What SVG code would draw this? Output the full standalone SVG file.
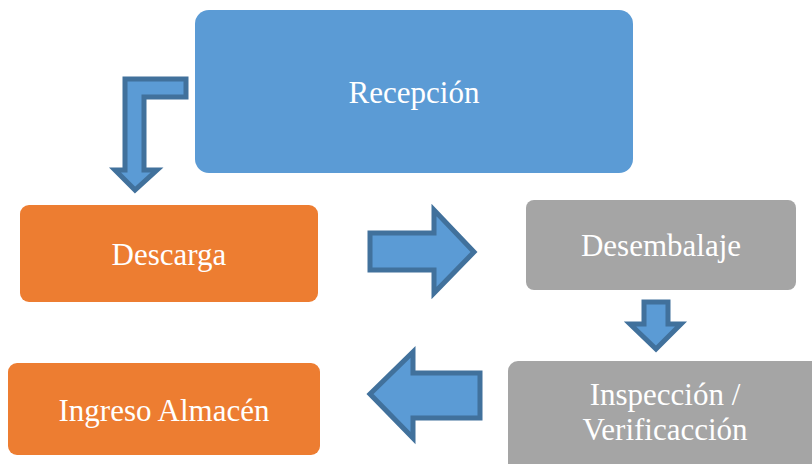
<svg xmlns="http://www.w3.org/2000/svg" width="812" height="464" viewBox="0 0 812 464">
<style>
.blue{fill:#5B9BD5}
.orange{fill:#ED7D31}
.gray{fill:#A5A5A5}
.arrow{fill:#5B9BD5;stroke:#41719C;stroke-width:5;stroke-linejoin:miter}
text{font-family:"Liberation Serif","Times New Roman",serif;font-size:31px;fill:#FFFFFF;text-anchor:middle}
</style>
<rect width="812" height="464" fill="#FFFFFF"/>
<g id="connectors">
<path class="arrow" d="M186,79 L125,79 L125,170 L115,170 L135,190 L157,170 L144,170 L144,97 L186,97 Z"/>
<path class="arrow" d="M370,233 L434,233 L434,210 L474,252 L434,293 L434,270 L370,270 Z"/>
<path class="arrow" d="M644,302 L668,302 L668,324 L681,324 L656,349 L630,324 L644,324 Z"/>
<path class="arrow" d="M480,373 L413,373 L413,352 L370,394 L413,438 L413,418 L480,418 Z"/>
</g>
<g id="recepcion">
<rect class="blue" x="195" y="10" width="438" height="163" rx="14"/>
<text x="414" y="103">Recepción</text>
</g>
<g id="descarga">
<rect class="orange" x="20" y="205" width="298" height="97" rx="9"/>
<text x="169" y="265">Descarga</text>
</g>
<g id="desembalaje">
<rect class="gray" x="526" y="200" width="270" height="90" rx="8"/>
<text x="661" y="256">Desembalaje</text>
</g>
<g id="inspeccion">
<rect class="gray" x="508" y="361" width="315" height="112" rx="10"/>
<text x="665" y="405">Inspección /</text>
<text x="665" y="440">Verificacción</text>
</g>
<g id="ingreso">
<rect class="orange" x="8" y="363" width="312" height="92" rx="9"/>
<text x="164" y="421">Ingreso Almacén</text>
</g>
</svg>
